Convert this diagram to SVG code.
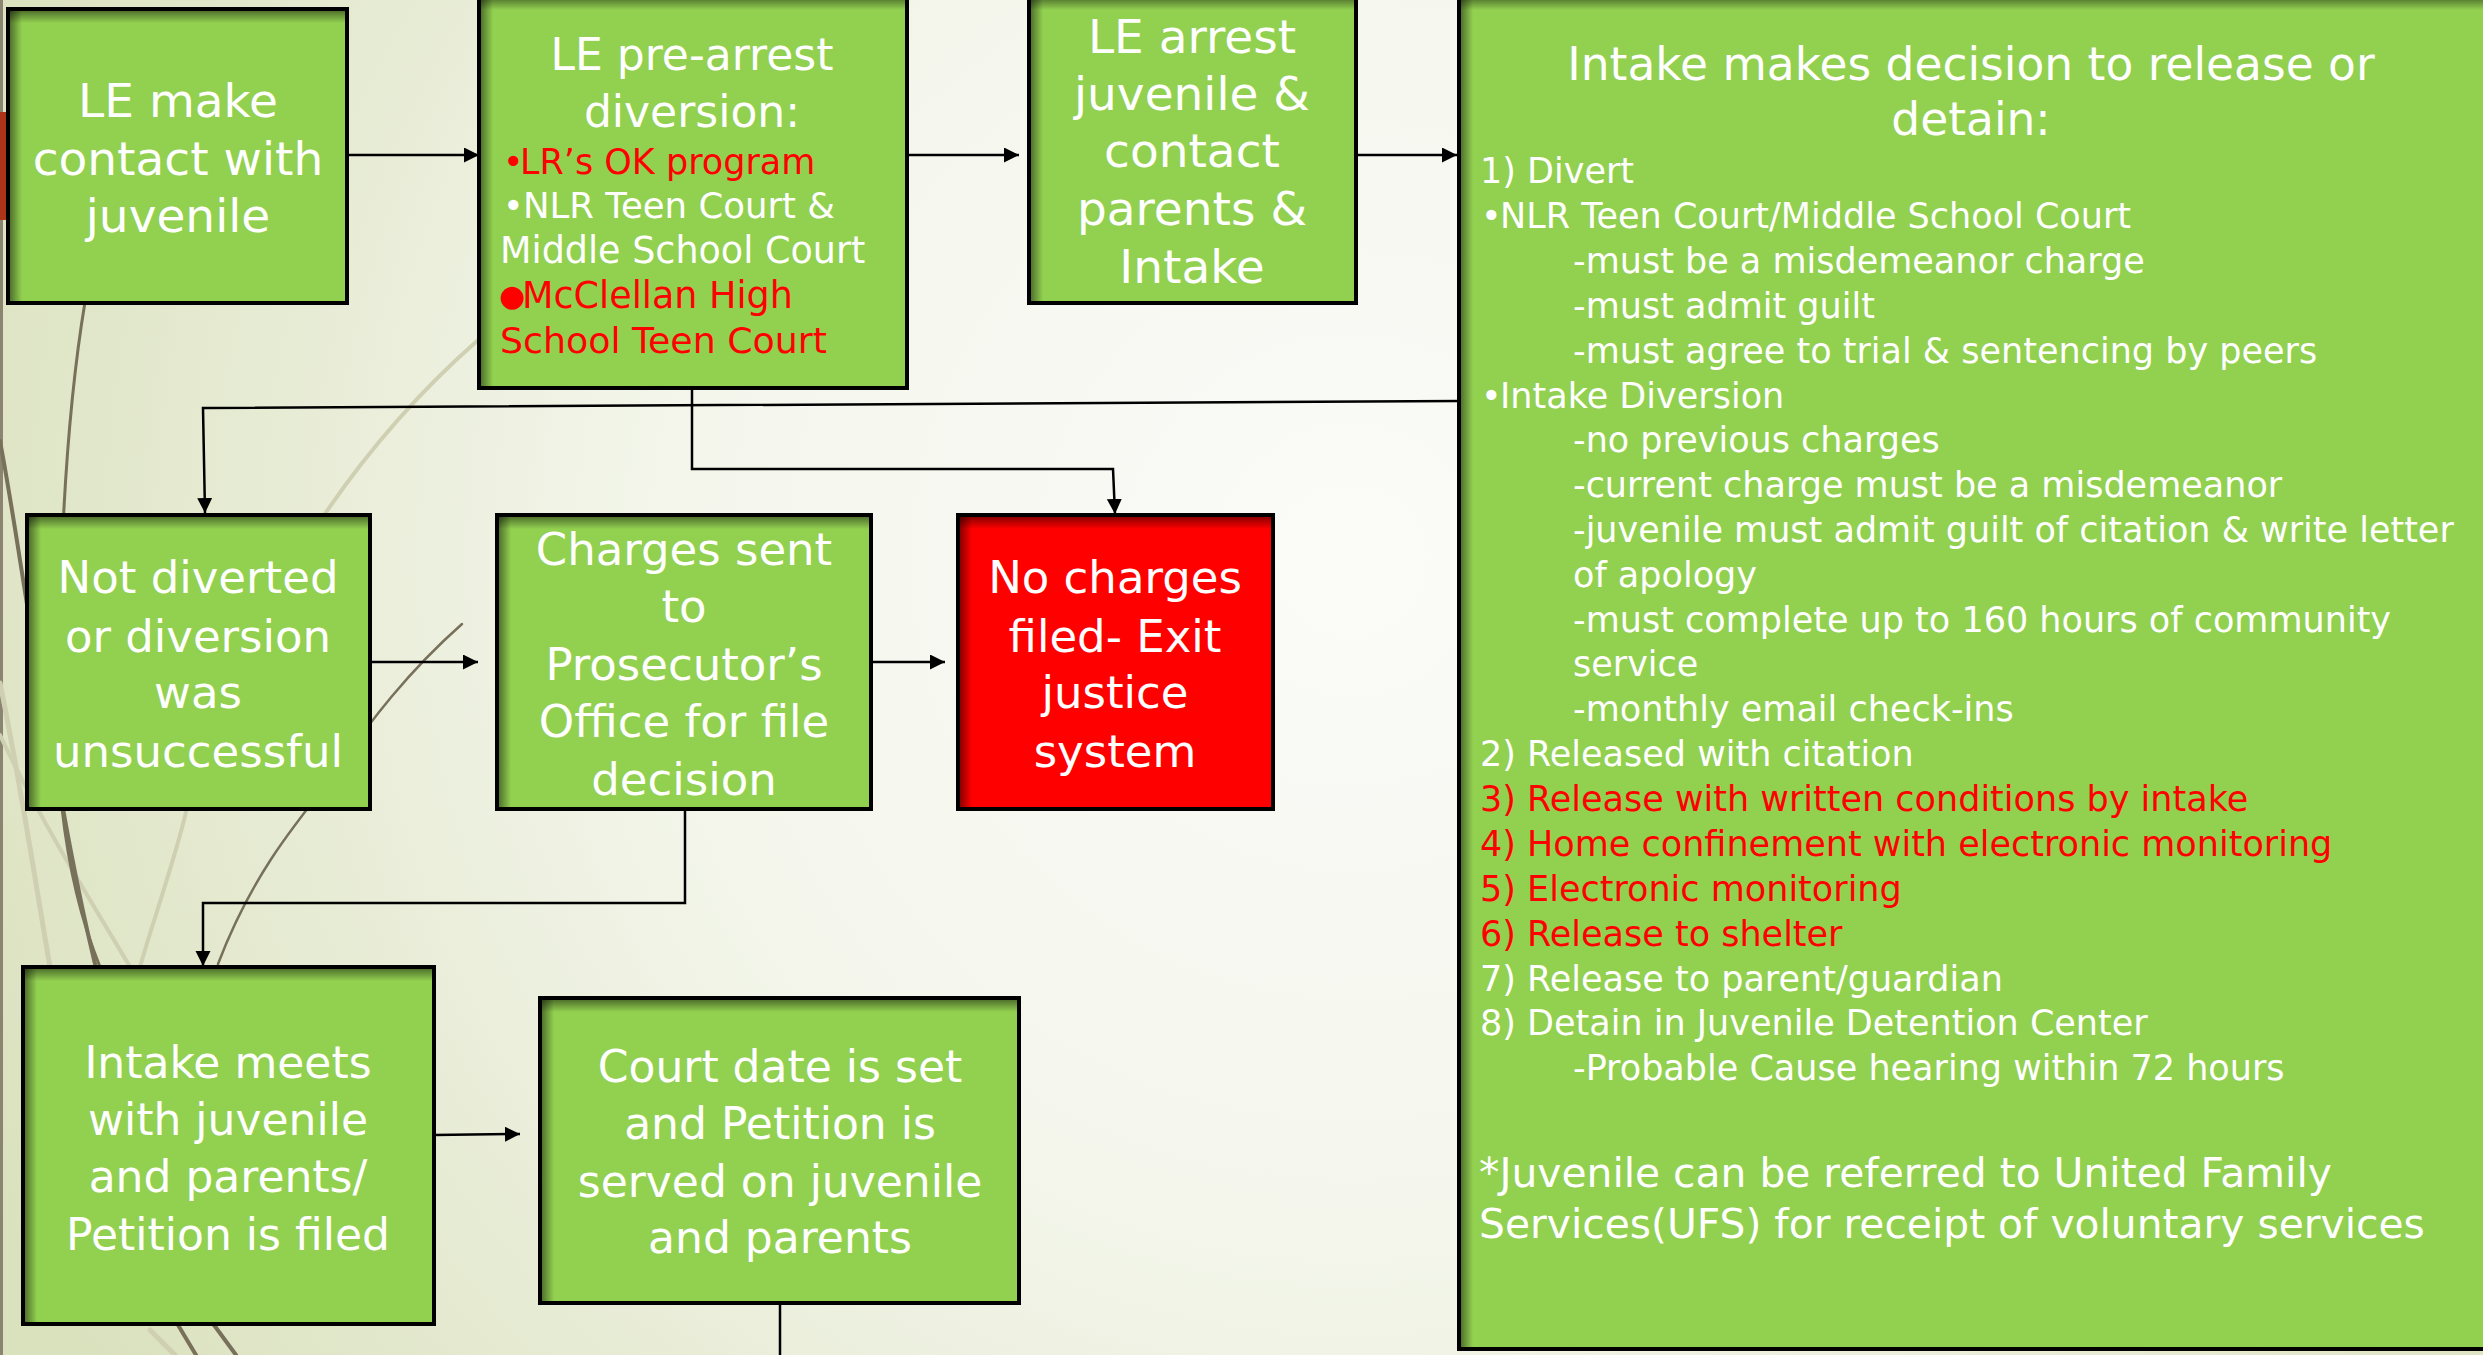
<svg xmlns="http://www.w3.org/2000/svg" width="2483" height="1355" viewBox="0 0 2483 1355">
<style>
.box{stroke:#000;stroke-width:4;fill:none}
.g{fill:#92d050}
.rd{fill:#ff0000}
.t{font-family:"DejaVu Sans","Liberation Sans",sans-serif;fill:#fff}
.c{text-anchor:middle}
.red{fill:#ff0000}
.conn{stroke:#000;stroke-width:2.5;fill:none}
.deco1{stroke:#77705a;fill:none;stroke-linecap:round}
.deco2{stroke:#cfd0b2;fill:none;stroke-linecap:round}
</style>
<defs>
<radialGradient id="bg" cx="1350" cy="560" r="1500" gradientUnits="userSpaceOnUse">
<stop offset="0" stop-color="#fbfbf8"/>
<stop offset="0.45" stop-color="#f4f6ec"/>
<stop offset="1" stop-color="#dae1bd"/>
</radialGradient>
<linearGradient id="shT" x1="0" y1="0" x2="0" y2="1">
<stop offset="0" stop-color="#000" stop-opacity="0.45"/>
<stop offset="1" stop-color="#000" stop-opacity="0"/>
</linearGradient>
<linearGradient id="shL" x1="0" y1="0" x2="1" y2="0">
<stop offset="0" stop-color="#000" stop-opacity="0.45"/>
<stop offset="1" stop-color="#000" stop-opacity="0"/>
</linearGradient>
<marker id="ah" markerUnits="userSpaceOnUse" markerWidth="16" markerHeight="16" refX="15" refY="7.5" orient="auto">
<path d="M0,0 L15,7.5 L0,15 z" fill="#000"/>
</marker>
</defs>

<rect x="0" y="0" width="2483" height="1355" fill="url(#bg)"/>

<g id="decoration">
<line x1="1.5" y1="0" x2="1.5" y2="1355" stroke="#8a8470" stroke-width="3"/>
<rect x="0" y="112" width="8" height="108" fill="#ad3517"/>
<path class="deco2" stroke-width="5" d="M0,683 C20,780 35,880 50,967"/>
<path class="deco2" stroke-width="4" d="M0,735 C40,820 90,900 150,1000"/>
<path class="deco2" stroke-width="4" d="M477,341 C330,470 230,650 187,808 C175,860 150,930 140,967"/>
<path class="deco2" stroke-width="5" d="M150,1330 L175,1355"/>
<path class="deco1" stroke-width="3" d="M85,302 C62,440 55,640 62,808 C70,880 85,930 100,967"/>
<path class="deco1" stroke-width="4" d="M0,441 C15,520 25,600 40,680 C55,760 70,860 95,964"/>
<path class="deco1" stroke-width="2.5" d="M218,964 C250,880 290,830 330,780 C370,720 410,670 462,624"/>
<path class="deco1" stroke-width="4" d="M178,1325 L196,1355"/>
<path class="deco1" stroke-width="4" d="M214,1325 L236,1355"/>
</g>

<g id="connectors">
<line class="conn" x1="347" y1="155" x2="479" y2="155" marker-end="url(#ah)"/>
<line class="conn" x1="907" y1="155" x2="1019" y2="155" marker-end="url(#ah)"/>
<line class="conn" x1="1356" y1="155" x2="1457" y2="155" marker-end="url(#ah)"/>
<polyline class="conn" points="1459,401 203,408 205,513" marker-end="url(#ah)"/>
<polyline class="conn" points="692,388 692,469 1113,469 1115,514" marker-end="url(#ah)"/>
<line class="conn" x1="370" y1="662" x2="478" y2="662" marker-end="url(#ah)"/>
<line class="conn" x1="871" y1="662" x2="945" y2="662" marker-end="url(#ah)"/>
<polyline class="conn" points="685,809 685,903 203,903 203,966" marker-end="url(#ah)"/>
<line class="conn" x1="434" y1="1135" x2="520" y2="1134" marker-end="url(#ah)"/>
<line class="conn" x1="780" y1="1303" x2="780" y2="1355"/>
</g>

<g id="n1">
<rect class="g" x="8" y="9" width="339" height="294"/>
<rect x="10" y="11" width="335" height="12" fill="url(#shT)"/>
<rect x="10" y="11" width="12" height="290" fill="url(#shL)"/>
<rect class="box" x="8" y="9" width="339" height="294"/>
<text class="t c" font-size="47" x="178" y="117">LE make</text>
<text class="t c" font-size="47" x="178" y="175">contact with</text>
<text class="t c" font-size="47" x="178" y="232">juvenile</text>
</g>

<g id="n2">
<rect class="g" x="479" y="-4" width="428" height="392"/>
<rect x="481" y="-2" width="424" height="12" fill="url(#shT)"/>
<rect x="481" y="-2" width="12" height="388" fill="url(#shL)"/>
<rect class="box" x="479" y="-4" width="428" height="392"/>
<text class="t c" font-size="44" x="692" y="70">LE pre-arrest</text>
<text class="t c" font-size="44" x="692" y="127">diversion:</text>
<text class="t red" font-size="35" x="503" y="174">•</text>
<text class="t red" font-size="35" x="520" y="174">LR’s OK program</text>
<text class="t" font-size="35" x="503" y="218">•</text>
<text class="t" font-size="35.5" x="523" y="218">NLR Teen Court &amp;</text>
<text class="t" font-size="36.5" x="500" y="263">Middle School Court</text>
<text class="t red" font-size="30" x="499" y="306">●</text>
<text class="t red" font-size="36.5" x="522" y="308">McClellan High</text>
<text class="t red" font-size="36.3" x="500" y="353">School Teen Court</text>
</g>

<g id="n3">
<rect class="g" x="1029" y="-4" width="327" height="307"/>
<rect x="1031" y="-2" width="323" height="12" fill="url(#shT)"/>
<rect x="1031" y="-2" width="12" height="303" fill="url(#shL)"/>
<rect class="box" x="1029" y="-4" width="327" height="307"/>
<text class="t c" font-size="47" x="1192" y="53">LE arrest</text>
<text class="t c" font-size="47" x="1192" y="110">juvenile &amp;</text>
<text class="t c" font-size="47" x="1192" y="167">contact</text>
<text class="t c" font-size="47" x="1192" y="225">parents &amp;</text>
<text class="t c" font-size="47" x="1192" y="283">Intake</text>
</g>

<g id="n4">
<rect class="g" x="1459" y="-4" width="1030" height="1353"/>
<rect x="1461" y="-2" width="1026" height="12" fill="url(#shT)"/>
<rect x="1461" y="-2" width="12" height="1349" fill="url(#shL)"/>
<rect class="box" x="1459" y="-4" width="1030" height="1353"/>
<text class="t c" font-size="45.5" x="1971" y="80">Intake makes decision to release or</text>
<text class="t c" font-size="45.5" x="1971" y="135">detain:</text>
<g font-size="35">
<text class="t" x="1480" y="183">1) Divert</text>
<text class="t" x="1481" y="228">•</text>
<text class="t" x="1500" y="228">NLR Teen Court/Middle School Court</text>
<text class="t" x="1573" y="273">-must be a misdemeanor charge</text>
<text class="t" x="1573" y="318">-must admit guilt</text>
<text class="t" x="1573" y="363">-must agree to trial &amp; sentencing by peers</text>
<text class="t" x="1481" y="408">•</text>
<text class="t" x="1500" y="408">Intake Diversion</text>
<text class="t" x="1573" y="452">-no previous charges</text>
<text class="t" x="1573" y="497">-current charge must be a misdemeanor</text>
<text class="t" x="1573" y="542">-juvenile must admit guilt of citation &amp; write letter</text>
<text class="t" x="1573" y="587">of apology</text>
<text class="t" x="1573" y="632">-must complete up to 160 hours of community</text>
<text class="t" x="1573" y="676">service</text>
<text class="t" x="1573" y="721">-monthly email check-ins</text>
<text class="t" x="1480" y="766">2) Released with citation</text>
<text class="t red" x="1480" y="811">3) Release with written conditions by intake</text>
<text class="t red" x="1480" y="856">4) Home confinement with electronic monitoring</text>
<text class="t red" x="1480" y="901">5) Electronic monitoring</text>
<text class="t red" x="1480" y="946">6) Release to shelter</text>
<text class="t" x="1480" y="991">7) Release to parent/guardian</text>
<text class="t" x="1480" y="1035">8) Detain in Juvenile Detention Center</text>
<text class="t" x="1573" y="1080">-Probable Cause hearing within 72 hours</text>
</g>
<text class="t" font-size="40.8" x="1479" y="1187">*Juvenile can be referred to United Family</text>
<text class="t" font-size="40.8" x="1479" y="1238">Services(UFS) for receipt of voluntary services</text>
</g>

<g id="n5">
<rect class="g" x="27" y="515" width="343" height="294"/>
<rect x="29" y="517" width="339" height="12" fill="url(#shT)"/>
<rect x="29" y="517" width="12" height="290" fill="url(#shL)"/>
<rect class="box" x="27" y="515" width="343" height="294"/>
<text class="t c" font-size="45" x="198" y="593">Not diverted</text>
<text class="t c" font-size="45" x="198" y="652">or diversion</text>
<text class="t c" font-size="45" x="198" y="708">was</text>
<text class="t c" font-size="45" x="198" y="767">unsuccessful</text>
</g>

<g id="n6">
<rect class="g" x="497" y="515" width="374" height="294"/>
<rect x="499" y="517" width="370" height="12" fill="url(#shT)"/>
<rect x="499" y="517" width="12" height="290" fill="url(#shL)"/>
<rect class="box" x="497" y="515" width="374" height="294"/>
<text class="t c" font-size="45" x="684" y="565">Charges sent</text>
<text class="t c" font-size="45" x="684" y="622">to</text>
<text class="t c" font-size="45" x="684" y="680">Prosecutor’s</text>
<text class="t c" font-size="45" x="684" y="737">Office for file</text>
<text class="t c" font-size="45" x="684" y="795">decision</text>
</g>

<g id="n7">
<rect class="rd" x="958" y="515" width="315" height="294"/>
<rect x="960" y="517" width="311" height="12" fill="url(#shT)"/>
<rect x="960" y="517" width="12" height="290" fill="url(#shL)"/>
<rect class="box" x="958" y="515" width="315" height="294"/>
<text class="t c" font-size="45" x="1115" y="593">No charges</text>
<text class="t c" font-size="45" x="1115" y="652">filed- Exit</text>
<text class="t c" font-size="45" x="1115" y="708">justice</text>
<text class="t c" font-size="45" x="1115" y="767">system</text>
</g>

<g id="n8">
<rect class="g" x="23" y="967" width="411" height="357"/>
<rect x="25" y="969" width="407" height="12" fill="url(#shT)"/>
<rect x="25" y="969" width="12" height="353" fill="url(#shL)"/>
<rect class="box" x="23" y="967" width="411" height="357"/>
<text class="t c" font-size="44" x="228" y="1078">Intake meets</text>
<text class="t c" font-size="44" x="228" y="1135">with juvenile</text>
<text class="t c" font-size="44" x="228" y="1192">and parents/</text>
<text class="t c" font-size="44" x="228" y="1250">Petition is filed</text>
</g>

<g id="n9">
<rect class="g" x="540" y="998" width="479" height="305"/>
<rect x="542" y="1000" width="475" height="12" fill="url(#shT)"/>
<rect x="542" y="1000" width="12" height="301" fill="url(#shL)"/>
<rect class="box" x="540" y="998" width="479" height="305"/>
<text class="t c" font-size="44" x="780" y="1082">Court date is set</text>
<text class="t c" font-size="44" x="780" y="1139">and Petition is</text>
<text class="t c" font-size="44" x="780" y="1197">served on juvenile</text>
<text class="t c" font-size="44" x="780" y="1253">and parents</text>
</g>
</svg>
